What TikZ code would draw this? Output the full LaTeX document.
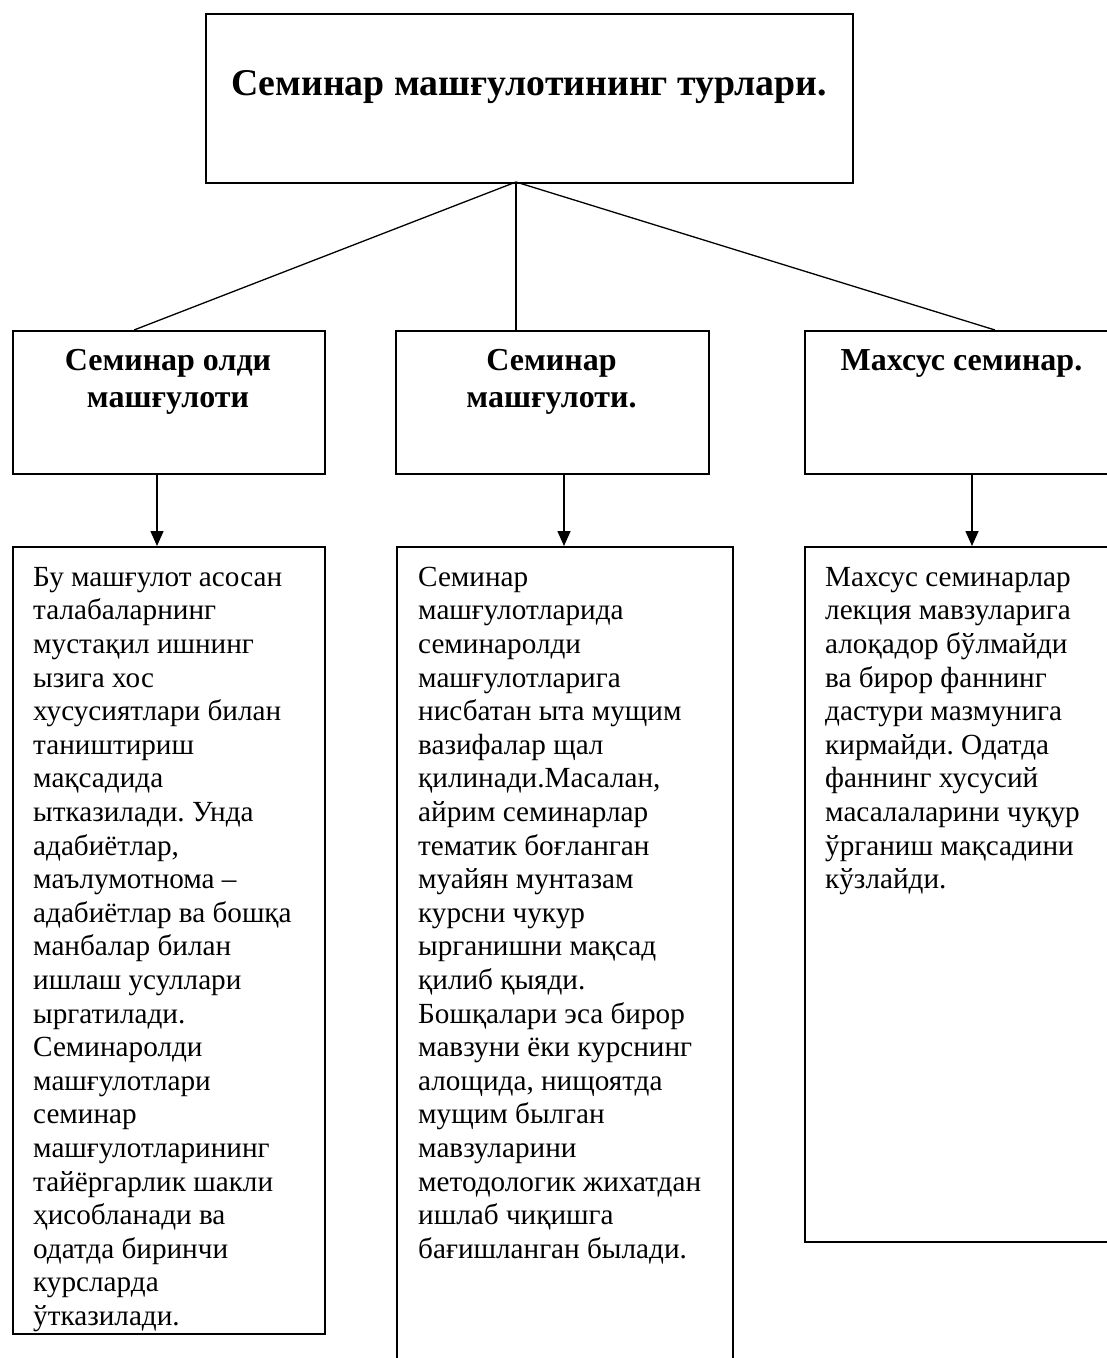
\documentclass[tikz,border=0pt]{standalone}
\usepackage{fontspec}
\setmainfont{Liberation Serif}
\usetikzlibrary{arrows.meta}
\frenchspacing
\tikzset{
  x=1pt, y=-1pt,
  boxframe/.style={draw, line width=1.6pt, rectangle, inner sep=0pt},
  headtext/.style={font=\bfseries\fontsize{32}{37}\selectfont, align=center, inner sep=0pt, anchor=north},
  titletext/.style={font=\bfseries\fontsize{37.8}{43}\selectfont, inner sep=0pt, anchor=base},
  bodytext/.style={font=\fontsize{29.2}{33.6}\selectfont, align=left, inner sep=0pt, anchor=north west},
  link/.style={line width=1.3pt},
  arr/.style={line width=1.6pt, -{Triangle[length=15pt,width=13pt]}}
}
\begin{document}
\begin{tikzpicture}
\clip (0,0) rectangle (1107,1358);
\fill[white] (0,0) rectangle (1107,1358);
% title
\node[boxframe, minimum width=647pt, minimum height=169pt, anchor=north west] (title) at (205,13) {};
\node[titletext] (titlelbl) at (529,95) {Семинар машғулотининг турлари.};
% upper boxes
\node[boxframe, minimum width=312pt, minimum height=143pt, anchor=north west] (h1) at (12,330) {};
\node[boxframe, minimum width=313pt, minimum height=143pt, anchor=north west] (h2) at (395,330) {};
\node[boxframe, minimum width=315pt, minimum height=143pt, anchor=north west] (h3) at (804,330) {};
\node[headtext] (h1lbl) at (168,344) {\strut Семинар олди\\машғулоти};
\node[headtext] (h2lbl) at (551.5,344) {\strut Семинар\\машғулоти.};
\node[headtext] (h3lbl) at (961.5,344) {\strut Махсус семинар.};
% lower boxes
\node[boxframe, minimum width=312pt, minimum height=787pt, anchor=north west] (b1) at (12,546) {};
\node[boxframe, minimum width=336pt, minimum height=860pt, anchor=north west] (b2) at (396,546) {};
\node[boxframe, minimum width=315pt, minimum height=695pt, anchor=north west] (b3) at (804,546) {};
\node[bodytext] (b1txt) at (33,562.5) {\strut Бу машғулот асосан\\талабаларнинг\\мустақил ишнинг\\ызига хос\\хусусиятлари билан\\таништириш\\мақсадида\\ытказилади. Унда\\адабиётлар,\\маълумотнома –\\адабиётлар ва бошқа\\манбалар билан\\ишлаш усуллари\\ыргатилади.\\Семинаролди\\машғулотлари\\семинар\\машғулотларининг\\тайёргарлик шакли\\ҳисобланади ва\\одатда биринчи\\курсларда\\ўтказилади.};
\node[bodytext] (b2txt) at (418,562.5) {\strut Семинар\\машғулотларида\\семинаролди\\машғулотларига\\нисбатан ыта мущим\\вазифалар щал\\қилинади.Масалан,\\айрим семинарлар\\тематик боғланган\\муайян мунтазам\\курсни чукур\\ырганишни мақсад\\қилиб қыяди.\\Бошқалари эса бирор\\мавзуни ёки курснинг\\алощида, нищоятда\\мущим былган\\мавзуларини\\методологик жихатдан\\ишлаб чиқишга\\бағишланган былади.};
\node[bodytext] (b3txt) at (825,562.5) {\strut Махсус семинарлар\\лекция мавзуларига\\алоқадор бўлмайди\\ва бирор фаннинг\\дастури мазмунига\\кирмайди. Одатда\\фаннинг хусусий\\масалаларини чуқур\\ўрганиш мақсадини\\кўзлайди.};
% connectors from title
\coordinate (apex) at (516,182);
\coordinate (t1) at (134,330);
\coordinate (t2) at (516,330);
\coordinate (t3) at (995,330);
\draw[link] (apex) -- (t1);
\draw[link] (apex) -- (t2);
\draw[link] (apex) -- (t3);
% arrows
\draw[arr] (h1.south -| 157,0) -- (b1.north -| 157,0);
\draw[arr] (h2.south -| 564,0) -- (b2.north -| 564,0);
\draw[arr] (h3.south -| 972,0) -- (b3.north -| 972,0);
\end{tikzpicture}
\end{document}
